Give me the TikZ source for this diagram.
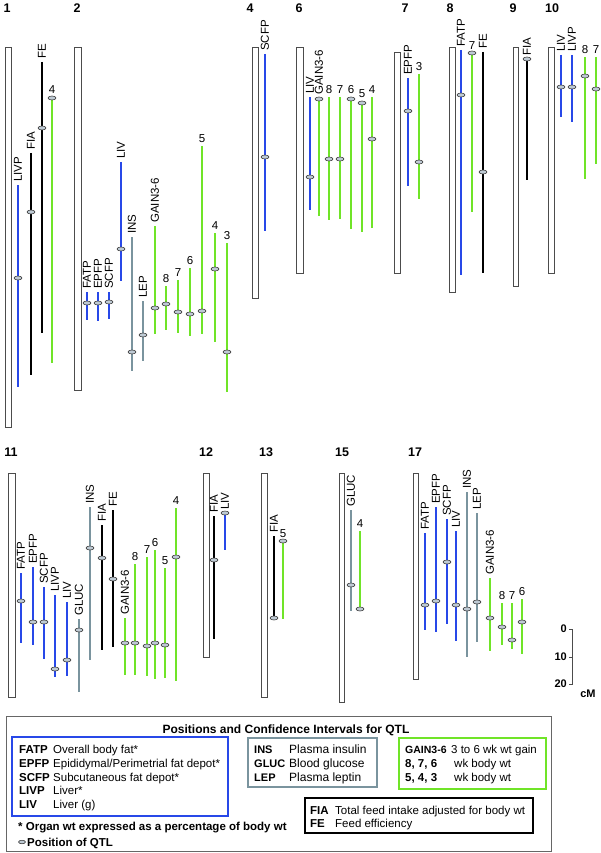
\documentclass[tikz,border=0pt]{standalone}
\usepackage{fontspec}
\setmainfont{Liberation Sans}
\usetikzlibrary{shapes.geometric}
\definecolor{qblue}{RGB}{40,72,232}
\definecolor{qgreen}{RGB}{112,228,40}
\definecolor{qgray}{RGB}{122,148,158}
\definecolor{qmark}{RGB}{190,202,212}
% one QTL: name, colour, x, top, bottom, position, label
\newcommand{\qtlname}[7]{%
  \draw[bar, #2] (#3,#4) -- (#3,#5);
  \node[marker] (#1m) at (#3,#6) {};
  \node[trait] (#1) at (#3,#4) {#7};}
\newcommand{\qtlwk}[7]{%
  \draw[bar, #2] (#3,#4) -- (#3,#5);
  \node[marker] (#1m) at (#3,#6) {};
  \node[week] (#1) at (#3,#4) {#7};}

\begin{document}
\begin{tikzpicture}[x=1pt, y=-1pt,
    chrom/.style={draw=black!70, line width=0.9pt, fill=white},
    bar/.style={line width=2.3pt},
    marker/.style={ellipse, draw=black!75, fill=qmark, line width=0.6pt,
      minimum width=8pt, minimum height=4pt, inner sep=0pt},
    trait/.style={rotate=90, anchor=west, inner sep=3pt, font=\fontsize{11.5}{13}\selectfont},
    week/.style={anchor=south, inner sep=3pt, font=\fontsize{11.5}{13}\selectfont},
    chrnum/.style={font=\fontsize{12.5}{14}\bfseries},
    keybox/.style={line width=1.8pt},
    keytxt/.style={anchor=base west, inner sep=0pt, font=\fontsize{11.5}{13}\selectfont},
    keybold/.style={keytxt, font=\fontsize{11.5}{13}\bfseries},
    scalelab/.style={anchor=east, inner sep=1pt, font=\fontsize{11}{13}\bfseries}]
    \useasboundingbox (0,0) rectangle (601,853);

    % chromosome 1
    \node[chrnum] (n1) at (7,8) {1};
    \draw[chrom] (5,47) rectangle (11,427);
    \qtlname{c1livp}{qblue}{18}{185}{387}{278}{LIVP}
    \qtlname{c1fia}{black}{31}{153}{375}{212}{FIA}
    \qtlname{c1fe}{black}{42}{62}{333}{128}{FE}
    \qtlwk{c1w4}{qgreen}{52}{97}{363}{98}{4}

    % chromosome 2
    \node[chrnum] (n2) at (77,8) {2};
    \draw[chrom] (74,47) rectangle (81,390);
    \qtlname{c2fatp}{qblue}{87}{292}{320}{303}{FATP}
    \qtlname{c2epfp}{qblue}{98}{292}{321}{303}{EPFP}
    \qtlname{c2scfp}{qblue}{109}{292}{319}{302}{SCFP}
    \qtlname{c2liv}{qblue}{121}{162}{281}{249}{LIV}
    \qtlname{c2ins}{qgray}{132}{237}{371}{352}{INS}
    \qtlname{c2lep}{qgray}{143}{301}{361}{335}{LEP}
    \qtlname{c2gain}{qgreen}{155}{226}{334}{308}{GAIN3-6}
    \qtlwk{c2w8}{qgreen}{166}{286}{330}{304}{8}
    \qtlwk{c2w7}{qgreen}{178}{280}{333}{312}{7}
    \qtlwk{c2w6}{qgreen}{190}{268}{336}{314}{6}
    \qtlwk{c2w5}{qgreen}{202}{146}{334}{311}{5}
    \qtlwk{c2w4}{qgreen}{215}{233}{342}{269}{4}
    \qtlwk{c2w3}{qgreen}{227}{243}{392}{352}{3}

    % chromosome 4
    \node[chrnum] (n4) at (250,8) {4};
    \draw[chrom] (252,47) rectangle (258,298);
    \qtlname{c4scfp}{qblue}{265}{54}{231}{157}{SCFP}

    % chromosome 6
    \node[chrnum] (n6) at (299,8) {6};
    \draw[chrom] (296,47) rectangle (303,273);
    \qtlname{c6liv}{qblue}{310}{97}{210}{177}{LIV}
    \qtlname{c6gain}{qgreen}{319}{98}{216}{99}{GAIN3-6}
    \qtlwk{c6w8}{qgreen}{329}{97}{220}{159}{8}
    \qtlwk{c6w7}{qgreen}{340}{97}{219}{159}{7}
    \qtlwk{c6w6}{qgreen}{351}{97}{229}{99}{6}
    \qtlwk{c6w5}{qgreen}{362}{101}{232}{103}{5}
    \qtlwk{c6w4}{qgreen}{372}{97}{228}{139}{4}

    % chromosome 7
    \node[chrnum] (n7) at (405,8) {7};
    \draw[chrom] (394,52) rectangle (400,273);
    \qtlname{c7epfp}{qblue}{408}{78}{186}{111}{EPFP}
    \qtlwk{c7w3}{qgreen}{419}{74}{199}{162}{3}

    % chromosome 8
    \node[chrnum] (n8) at (450,8) {8};
    \draw[chrom] (449,47) rectangle (455,292);
    \qtlname{c8fatp}{qblue}{461}{50}{275}{95}{FATP}
    \qtlwk{c8w7}{qgreen}{472}{53}{212}{53}{7}
    \qtlname{c8fe}{black}{483}{52}{273}{172}{FE}

    % chromosome 9
    \node[chrnum] (n9) at (513,8) {9};
    \draw[chrom] (513,47) rectangle (518,286);
    \qtlname{c9fia}{black}{527}{59}{180}{59}{FIA}

    % chromosome 10
    \node[chrnum] (n10) at (552,8) {10};
    \draw[chrom] (548,47) rectangle (554,273);
    \qtlname{c10liv}{qblue}{561}{55}{117}{87}{LIV}
    \qtlname{c10livp}{qblue}{572}{55}{122}{87}{LIVP}
    \qtlwk{c10w8}{qgreen}{585}{57}{179}{76}{8}
    \qtlwk{c10w7}{qgreen}{596}{57}{164}{89}{7}

    % chromosome 11
    \node[chrnum] (n11) at (11,452) {11};
    \draw[chrom] (8,473) rectangle (15,697);
    \qtlname{c11fatp}{qblue}{21}{573}{643}{601}{FATP}
    \qtlname{c11epfp}{qblue}{33}{567}{645}{622}{EPFP}
    \qtlname{c11scfp}{qblue}{44}{587}{659}{622}{SCFP}
    \qtlname{c11livp}{qblue}{55}{595}{677}{669}{LIVP}
    \qtlname{c11liv}{qblue}{67}{602}{676}{660}{LIV}
    \qtlname{c11gluc}{qgray}{79}{619}{692}{630}{GLUC}
    \qtlname{c11ins}{qgray}{90}{507}{660}{548}{INS}
    \qtlname{c11fia}{black}{102}{525}{650}{558}{FIA}
    \qtlname{c11fe}{black}{113}{510}{647}{579}{FE}
    \qtlname{c11gain}{qgreen}{125}{618}{675}{643}{GAIN3-6}
    \qtlwk{c11w8}{qgreen}{135}{564}{675}{643}{8}
    \qtlwk{c11w7}{qgreen}{147}{557}{676}{646}{7}
    \qtlwk{c11w6}{qgreen}{155}{550}{679}{643}{6}
    \qtlwk{c11w5}{qgreen}{165}{568}{678}{645}{5}
    \qtlwk{c11w4}{qgreen}{176}{508}{681}{557}{4}

    % chromosome 12
    \node[chrnum] (n12) at (206,452) {12};
    \draw[chrom] (203,473) rectangle (209,657);
    \qtlname{c12fia}{black}{214}{516}{639}{560}{FIA}
    \qtlname{c12liv}{qblue}{225}{513}{550}{513}{LIV}

    % chromosome 13
    \node[chrnum] (n13) at (266,452) {13};
    \draw[chrom] (261,473) rectangle (267,697);
    \qtlname{c13fia}{black}{274}{536}{618}{618}{FIA}
    \qtlwk{c13w5}{qgreen}{283}{541}{619}{541}{5}

    % chromosome 15
    \node[chrnum] (n15) at (342,452) {15};
    \draw[chrom] (339,473) rectangle (344,702);
    \qtlname{c15gluc}{qgray}{351}{510}{611}{585}{GLUC}
    \qtlwk{c15w4}{qgreen}{360}{531}{609}{609}{4}

    % chromosome 17
    \node[chrnum] (n17) at (415,452) {17};
    \draw[chrom] (413,473) rectangle (418,679);
    \qtlname{c17fatp}{qblue}{425}{533}{630}{605}{FATP}
    \qtlname{c17epfp}{qblue}{436}{507}{632}{601}{EPFP}
    \qtlname{c17scfp}{qblue}{447}{519}{624}{562}{SCFP}
    \qtlname{c17liv}{qblue}{456}{531}{641}{605}{LIV}
    \qtlname{c17ins}{qgray}{467}{492}{657}{609}{INS}
    \qtlname{c17lep}{qgray}{477}{513}{642}{602}{LEP}
    \qtlname{c17gain}{qgreen}{490}{578}{651}{618}{GAIN3-6}
    \qtlwk{c17w8}{qgreen}{502}{603}{645}{627}{8}
    \qtlwk{c17w7}{qgreen}{512}{603}{649}{640}{7}
    \qtlwk{c17w6}{qgreen}{522}{599}{654}{622}{6}

    % scale bar
    \coordinate (s0) at (572,629);
    \coordinate (s10) at (572,657);
    \coordinate (s20) at (572,684);
    \draw[black!70, line width=0.8pt] ([xshift=-3pt]s0) -- (s0) -- (s20) -- ([xshift=-3pt]s20);
    \draw[black!70, line width=0.8pt] ([xshift=-3pt]s10) -- (s10);
    \node[scalelab] (l0) at (568,629) {0};
    \node[scalelab] (l10) at (568,657) {10};
    \node[scalelab] (l20) at (568,684) {20};
    \node[font=\fontsize{11}{13}\bfseries] (cm) at (588,694) {cM};

    % legend
    \draw[black!60, line width=0.8pt] (6,716) rectangle (551,851);
    \node[anchor=base, font=\fontsize{12}{14}\bfseries] (title) at (286,733)
      {Positions and Confidence Intervals for QTL};
    \draw[keybox, qblue] (12,737) rectangle (228,816);
    \node[keybold] (kfatp) at (19,753) {FATP};
    \node[keybold] (kepfp) at (19,767) {EPFP};
    \node[keybold] (kscfp) at (19,781) {SCFP};
    \node[keybold] (klivp) at (19,794) {LIVP};
    \node[keybold] (kliv) at (19,808) {LIV};
    \node[keytxt] (dfatp) at (53,753) {Overall body fat*};
    \node[keytxt] (depfp) at (53,767) {Epididymal/Perimetrial fat depot*};
    \node[keytxt] (dscfp) at (53,781) {Subcutaneous fat depot*};
    \node[keytxt] (dlivp) at (53,794) {Liver*};
    \node[keytxt] (dliv) at (53,808) {Liver (g)};

    \draw[keybox, qgray] (248,738) rectangle (377,787);
    \node[keybold, font=\fontsize{11}{13}\bfseries] (kins) at (254,753) {INS};
    \node[keybold, font=\fontsize{11}{13}\bfseries] (kgluc) at (254,767) {GLUC};
    \node[keybold, font=\fontsize{11}{13}\bfseries] (klep) at (254,781) {LEP};
    \node[keytxt, font=\fontsize{12}{14}\selectfont] (dins) at (289,753) {Plasma insulin};
    \node[keytxt, font=\fontsize{12}{14}\selectfont] (dgluc) at (289,767) {Blood glucose};
    \node[keytxt, font=\fontsize{12}{14}\selectfont] (dlep) at (289,781) {Plasma leptin};

    \draw[keybox, qgreen] (399,738) rectangle (546,789);
    \node[keybold, font=\fontsize{10.5}{13}\bfseries] (kgain) at (405,753) {GAIN3-6};
    \node[keybold] (kwa) at (405,767) {8, 7, 6};
    \node[keybold] (kwb) at (405,781) {5, 4, 3};
    \node[keytxt] (dgain) at (451,753) {3 to 6 wk wt gain};
    \node[keytxt] (dwa) at (454,767) {wk body wt};
    \node[keytxt] (dwb) at (454,781) {wk body wt};

    \draw[keybox, black] (305,798) rectangle (533,833);
    \node[keybold] (kfia) at (310,814) {FIA};
    \node[keybold] (kfe) at (310,827) {FE};
    \node[keytxt] (dfia) at (335,814) {Total feed intake adjusted for body wt};
    \node[keytxt] (dfe) at (335,827) {Feed efficiency};

    \node[keybold] (note) at (18,830) {* Organ wt expressed as a percentage of body wt};
    \node[marker, minimum width=7pt, minimum height=3.5pt] (kmark) at (22,842) {};
    \node[keybold] (kpos) at (27,846) {Position of QTL};
\end{tikzpicture}
\end{document}
